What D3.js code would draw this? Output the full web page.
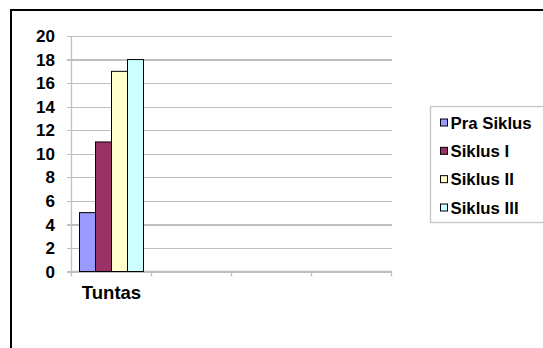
<!DOCTYPE html>
<html>
<head>
<meta charset="utf-8">
<script src="https://cdn.jsdelivr.net/npm/d3@7"></script>
<style>
  html, body { margin: 0; padding: 0; background: #fff; }
  svg { display: block; }
  text { font-family: "Liberation Sans", Arial, sans-serif; font-weight: bold; fill: #000; }
</style>
</head>
<body>
<svg id="chart" width="543" height="348"></svg>
<script>
// Category slots on the x axis (only the first one carries data)
const categories = ["Tuntas", "", "", ""];
// Series names and their values for "Tuntas"
const seriesNames = ["Pra Siklus", "Siklus I", "Siklus II", "Siklus III"];
const praSiklus = [5];
const siklusI = [11];
const siklusII = [17];
const siklusIII = [18];
const seriesValues = [praSiklus, siklusI, siklusII, siklusIII];
const seriesColors = ["#9999FF", "#993366", "#FFFFCC", "#CCFFFF"];
const yTicks = [0, 2, 4, 6, 8, 10, 12, 14, 16, 18, 20];

const svg = d3.select("#chart");

// Outer chart frame
svg.append("rect")
  .attr("x", 11).attr("y", 10)
  .attr("width", 700).attr("height", 500)
  .attr("fill", "#fff")
  .attr("stroke", "#000").attr("stroke-width", 2);

const plot = { left: 71.5, right: 391.5, top: 36, bottom: 271.5 };

const x = d3.scaleBand()
  .domain(d3.range(categories.length))
  .range([plot.left, plot.right])
  .paddingInner(0).paddingOuter(0);

const y = d3.scaleLinear()
  .domain([0, 20])
  .range([plot.bottom, plot.top]);

const inner = d3.scaleBand()
  .domain(d3.range(seriesNames.length))
  .range([0, x.bandwidth()])
  .paddingOuter(0.5).paddingInner(0);

// Horizontal gridlines with small ticks left of the axis
const yAxis = d3.axisLeft(y)
  .tickValues(yTicks)
  .tickSize(-(plot.right - plot.left))
  .tickPadding(0)
  .tickFormat("");
const gy = svg.append("g")
  .attr("transform", `translate(${plot.left},0)`)
  .call(yAxis);
gy.select(".domain").remove();
gy.selectAll(".tick line")
  .attr("x1", -5)
  .attr("stroke", "#bfbfbf").attr("stroke-width", 1.3)
  .attr("shape-rendering", "crispEdges");

// Y tick labels
svg.append("g").selectAll("text")
  .data(yTicks)
  .join("text")
  .attr("x", 55)
  .attr("y", d => y(d))
  .attr("dy", "0.36em")
  .attr("text-anchor", "end")
  .attr("font-size", 17)
  .text(d => d);

// Y axis line
svg.append("line")
  .attr("x1", plot.left).attr("x2", plot.left)
  .attr("y1", plot.top).attr("y2", plot.bottom)
  .attr("stroke", "#bfbfbf").attr("stroke-width", 1.3);

// X axis with category boundary ticks
const xAxis = d3.axisBottom(x).tickSize(0).tickFormat("");
const gx = svg.append("g")
  .attr("transform", `translate(0,${plot.bottom})`)
  .call(xAxis);
gx.select(".domain").remove();
svg.append("line")
  .attr("x1", plot.left).attr("x2", plot.right)
  .attr("y1", plot.bottom).attr("y2", plot.bottom)
  .attr("stroke", "#bfbfbf").attr("stroke-width", 1.3);
const boundaries = d3.range(categories.length + 1).map(i =>
  i < categories.length ? x(i) : x(categories.length - 1) + x.bandwidth());
svg.append("g").selectAll("line")
  .data(boundaries)
  .join("line")
  .attr("x1", d => d).attr("x2", d => d)
  .attr("y1", plot.bottom).attr("y2", plot.bottom + 5)
  .attr("stroke", "#bfbfbf").attr("stroke-width", 1.3);

// Category labels
svg.append("g").selectAll("text")
  .data(categories)
  .join("text")
  .attr("x", (d, i) => x(i) + x.bandwidth() / 2)
  .attr("y", 299)
  .attr("text-anchor", "middle")
  .attr("font-size", 18.5)
  .text(d => d);

// Bars
seriesValues.forEach((vals, s) => {
  svg.append("g").selectAll("rect")
    .data(vals)
    .join("rect")
    .attr("x", (d, i) => x(i) + inner(s))
    .attr("y", d => y(d))
    .attr("width", inner.bandwidth())
    .attr("height", d => y(0) - y(d))
    .attr("fill", seriesColors[s])
    .attr("stroke", "#000").attr("stroke-width", 1);
});

// Legend
const legend = svg.append("g");
legend.append("rect")
  .attr("x", 430.5).attr("y", 106.5)
  .attr("width", 200).attr("height", 116)
  .attr("fill", "#fff")
  .attr("stroke", "#c4c4c4").attr("stroke-width", 1.3);
const rowY = d3.scalePoint()
  .domain(seriesNames)
  .range([122.5, 207.5]);
const items = legend.selectAll("g.item")
  .data(seriesNames)
  .join("g").attr("class", "item");
items.append("rect")
  .attr("x", 440.5)
  .attr("y", d => rowY(d) - 3.5)
  .attr("width", 7).attr("height", 7)
  .attr("fill", (d, i) => seriesColors[i])
  .attr("stroke", "#000").attr("stroke-width", 1);
items.append("text")
  .attr("x", 450.5)
  .attr("y", d => rowY(d))
  .attr("dy", "0.36em")
  .attr("font-size", 16.8)
  .text(d => d);
</script>
</body>
</html>
